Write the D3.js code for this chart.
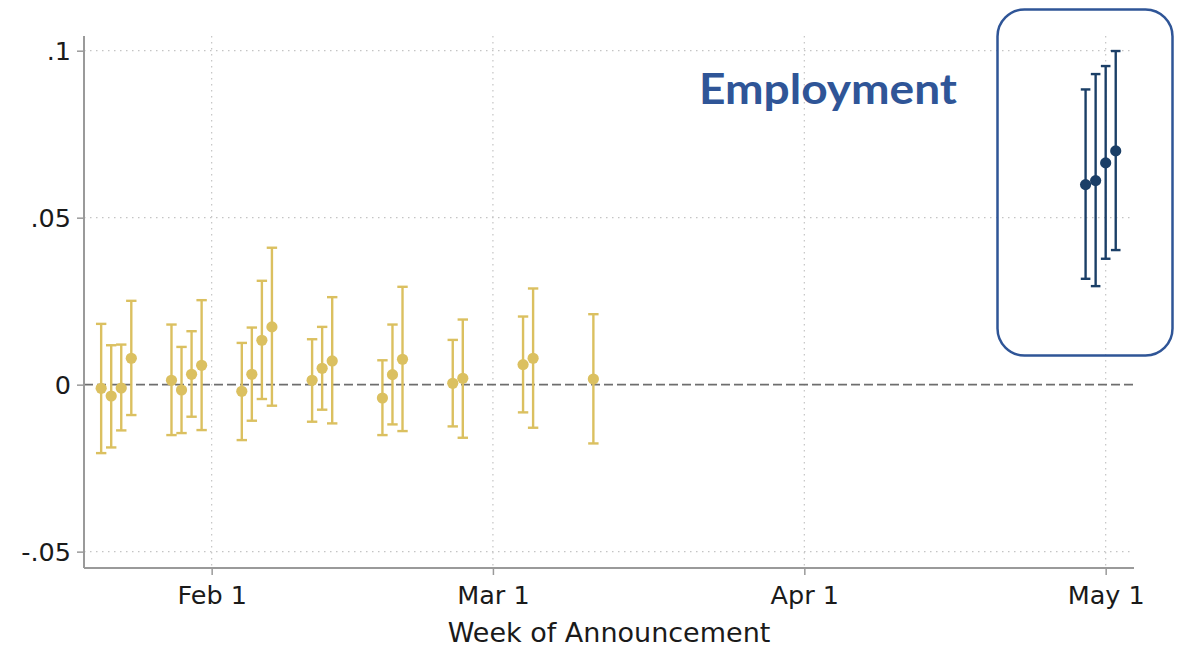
<!DOCTYPE html>
<html>
<head>
<meta charset="utf-8">
<script src="https://cdn.jsdelivr.net/npm/d3@7"></script>
<style>
  html, body { margin: 0; padding: 0; background: #fff; }
  svg { display: block; }
  .tick text { font-family: "DejaVu Sans", sans-serif; }
</style>
</head>
<body>
<svg id="chart" width="1193" height="651"></svg>
<script>
// Weekly estimates before the event (each week's specifications staggered by a day)
const preDates = ["2021-01-21","2021-01-22","2021-01-23","2021-01-24",
                  "2021-01-28","2021-01-29","2021-01-30","2021-01-31",
                  "2021-02-04","2021-02-05","2021-02-06","2021-02-07",
                  "2021-02-11","2021-02-12","2021-02-13",
                  "2021-02-18","2021-02-19","2021-02-20",
                  "2021-02-25","2021-02-26",
                  "2021-03-04","2021-03-05",
                  "2021-03-11"];
const preEst = [-0.0011,-0.0034,-0.0010, 0.0079,
                 0.0013,-0.0016, 0.0031, 0.0058,
                -0.0020, 0.0031, 0.0133, 0.0173,
                 0.0013, 0.0049, 0.0071,
                -0.0040, 0.0030, 0.0076,
                 0.0004, 0.0019,
                 0.0060, 0.0079,
                 0.0017];
const preHi  = [ 0.0182, 0.0118, 0.0120, 0.0251,
                 0.0180, 0.0113, 0.0160, 0.0253,
                 0.0125, 0.0171, 0.0311, 0.0410,
                 0.0136, 0.0173, 0.0262,
                 0.0073, 0.0180, 0.0293,
                 0.0134, 0.0195,
                 0.0204, 0.0288,
                 0.0211];
const preLo  = [-0.0205,-0.0188,-0.0137,-0.0091,
                -0.0151,-0.0145,-0.0096,-0.0136,
                -0.0166,-0.0108,-0.0043,-0.0063,
                -0.0111,-0.0075,-0.0116,
                -0.0151,-0.0119,-0.0139,
                -0.0125,-0.0159,
                -0.0083,-0.0129,
                -0.0176];

// Employment announcement week
const empDates = ["2021-04-29","2021-04-30","2021-05-01","2021-05-02"];
const empEst   = [0.0599, 0.0611, 0.0664, 0.0700];
const empHi    = [0.0884, 0.0930, 0.0954, 0.0999];
const empLo    = [0.0317, 0.0295, 0.0377, 0.0403];

const yTicks = [-0.05, 0, 0.05, 0.1];
const yTickLabels = ["-.05", "0", ".05", ".1"];
const xTicks = ["2021-02-01","2021-03-01","2021-04-01","2021-05-01"];

const parse = d3.timeParse("%Y-%m-%d");
const pre = preDates.map((d, i) => ({ date: parse(d), est: preEst[i], lo: preLo[i], hi: preHi[i] }));
const emp = empDates.map((d, i) => ({ date: parse(d), est: empEst[i], lo: empLo[i], hi: empHi[i] }));

const svg = d3.select("#chart");
const plot = { left: 84, right: 1134, top: 36, bottom: 568 };

const x = d3.scaleTime()
  .domain([new Date(2021, 0, 19, 7, 0), new Date(2021, 4, 3, 19, 40)])
  .range([plot.left, plot.right]);
const y = d3.scaleLinear()
  .domain([-0.0549, 0.1044])
  .range([plot.bottom, plot.top]);

const gold = "#dbc060";
const navy = "#1b3f67";
const axisGray = "#9a9a9a";

// Grid lines
const grid = svg.append("g");
grid.selectAll("line.hg")
  .data(yTicks.filter(v => v !== 0))
  .join("line")
  .attr("x1", plot.left).attr("x2", plot.right)
  .attr("y1", d => y(d)).attr("y2", d => y(d))
  .attr("stroke", "#c4c4c4").attr("stroke-width", 1.2)
  .attr("stroke-dasharray", "1.5,4.5");
grid.selectAll("line.vg")
  .data(xTicks.map(parse))
  .join("line")
  .attr("x1", d => x(d)).attr("x2", d => x(d))
  .attr("y1", plot.top).attr("y2", plot.bottom)
  .attr("stroke", "#c4c4c4").attr("stroke-width", 1.2)
  .attr("stroke-dasharray", "1.5,4.5");

// Zero reference line
svg.append("line")
  .attr("x1", plot.left).attr("x2", plot.right)
  .attr("y1", y(0)).attr("y2", y(0))
  .attr("stroke", "#6e6e6e").attr("stroke-width", 1.8)
  .attr("stroke-dasharray", "9,4");

// Axes
const yAxis = d3.axisLeft(y)
  .tickValues(yTicks)
  .tickFormat((d, i) => yTickLabels[i])
  .tickSize(7).tickPadding(6);
const gy = svg.append("g").attr("transform", `translate(${plot.left},0)`).call(yAxis);

const xAxis = d3.axisBottom(x)
  .tickValues(xTicks.map(parse))
  .tickFormat(d3.timeFormat("%b %-d"))
  .tickSize(7).tickPadding(6);
const gx = svg.append("g").attr("transform", `translate(0,${plot.bottom})`).call(xAxis);

[gx, gy].forEach(g => {
  g.select(".domain").attr("stroke", axisGray).attr("stroke-width", 2)
    .attr("d", g === gx
      ? `M${plot.left},0H${plot.right}`
      : `M0,${plot.top}V${plot.bottom}`);
  g.selectAll(".tick line").attr("stroke", axisGray).attr("stroke-width", 1.5);
  g.selectAll(".tick text").attr("fill", "#1a1a1a").attr("font-size", 25.5);
});
gx.selectAll(".tick text").attr("dy", "0.92em");
gy.selectAll(".tick text").attr("dy", "0.36em");

svg.append("text")
  .attr("x", 609).attr("y", 642)
  .attr("text-anchor", "middle")
  .attr("font-family", "DejaVu Sans, sans-serif")
  .attr("font-size", 27)
  .attr("fill", "#1a1a1a")
  .text("Week of Announcement");

// Confidence intervals with caps and point estimates
function drawSeries(data, color, lw, capHalf, r) {
  const g = svg.append("g");
  g.selectAll("line.ci").data(data).join("line")
    .attr("x1", d => x(d.date)).attr("x2", d => x(d.date))
    .attr("y1", d => y(d.lo)).attr("y2", d => y(d.hi))
    .attr("stroke", color).attr("stroke-width", lw);
  g.selectAll("line.capHi").data(data).join("line")
    .attr("x1", d => x(d.date) - capHalf).attr("x2", d => x(d.date) + capHalf)
    .attr("y1", d => y(d.hi)).attr("y2", d => y(d.hi))
    .attr("stroke", color).attr("stroke-width", lw);
  g.selectAll("line.capLo").data(data).join("line")
    .attr("x1", d => x(d.date) - capHalf).attr("x2", d => x(d.date) + capHalf)
    .attr("y1", d => y(d.lo)).attr("y2", d => y(d.lo))
    .attr("stroke", color).attr("stroke-width", lw);
  g.selectAll("circle").data(data).join("circle")
    .attr("cx", d => x(d.date)).attr("cy", d => y(d.est))
    .attr("r", r).attr("fill", color);
}
drawSeries(pre, gold, 2.4, 5.2, 5.6);
drawSeries(emp, navy, 2.4, 4.8, 5.6);

// Highlight box and label
svg.append("rect")
  .attr("x", 997.5).attr("y", 9.5)
  .attr("width", 175).attr("height", 346)
  .attr("rx", 27).attr("ry", 27)
  .attr("fill", "none")
  .attr("stroke", "#2f5597").attr("stroke-width", 2.5);

svg.append("text")
  .attr("x", 699).attr("y", 104)
  .attr("font-family", "Lato, 'Open Sans', sans-serif")
  .attr("font-weight", 700)
  .attr("font-size", 42)
  .attr("fill", "#2f5597")
  .attr("textLength", 258)
  .attr("lengthAdjust", "spacingAndGlyphs")
  .text("Employment");
</script>
</body>
</html>
